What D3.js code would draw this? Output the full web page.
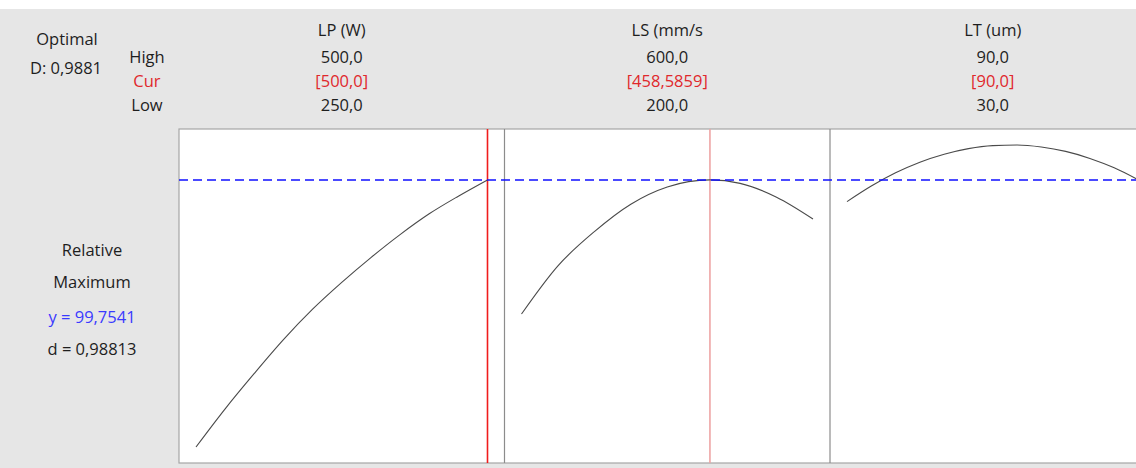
<!DOCTYPE html>
<html>
<head>
<meta charset="utf-8">
<script src="https://cdn.jsdelivr.net/npm/d3@7"></script>
<style>
  html, body { margin: 0; padding: 0; background: #ffffff; }
  svg { display: block; }
  text { font-family: "Open Sans", "Noto Sans", sans-serif; font-size: 16.5px; }
</style>
</head>
<body>
<svg id="chart" width="1136" height="468"></svg>
<script>
// Response optimizer: factor settings and composite desirability
const factorNames = ["LP (W)", "LS (mm/s", "LT (um)"];
const highLabels = ["500,0", "600,0", "90,0"];
const curLabels = ["[500,0]", "[458,5859]", "[90,0]"];
const lowLabels = ["250,0", "200,0", "30,0"];
const lowValues = [250, 200, 30];
const highValues = [500, 600, 90];
const curValues = [500, 458.5859, 90];

const optimalD = "0,9881";
const responseY = 99.7541;
const responseYLabel = "y = 99,7541";
const responseDLabel = "d = 0,98813";

// Predicted response traces along each factor (others held at current setting)
const lpX = [250, 275, 300, 325, 350, 375, 400, 425, 450, 475, 500];
const lpY = [86.40, 88.31, 90.08, 91.77, 93.29, 94.63, 95.87, 97.02, 98.06, 98.94, 99.7541];

const lsX = [200, 250, 300, 350, 400, 458.5859, 500, 550, 600];
const lsY = [93.05, 95.46, 97.17, 98.54, 99.40, 99.7541, 99.58, 98.89, 97.80];

const ltX = [30, 35, 40, 45, 50, 55, 60, 65, 70, 75, 80, 85, 90];
const ltY = [98.67, 99.45, 100.11, 100.64, 101.04, 101.32, 101.47, 101.50, 101.40, 101.18, 100.83, 100.36, 99.7541];

const traces = [
  { x: lpX, y: lpY },
  { x: lsX, y: lsY },
  { x: ltX, y: ltY }
];

const W = 1136, H = 468;
const svg = d3.select("#chart");

const plotLeft = 179, plotTop = 129, plotBottom = 463;
const panelW = 325.5, pad = 17;

// Background
svg.append("rect").attr("x", 0).attr("y", 9).attr("width", W).attr("height", H - 9).attr("fill", "#e6e6e6");
svg.append("rect").attr("x", plotLeft).attr("y", plotTop)
  .attr("width", W - plotLeft + 5).attr("height", plotBottom - plotTop)
  .attr("fill", "#ffffff").attr("stroke", "#a6a6a6").attr("stroke-width", 1.2);

const y = d3.scaleLinear().domain([85.6, 102.3]).range([plotBottom, plotTop]);

const black = "#1e1e1e", red = "#e0282c", blue = "#3a3aff";

// Left header block
svg.append("text").attr("x", 67).attr("y", 41).attr("text-anchor", "middle")
  .attr("dominant-baseline", "middle").attr("fill", black).text("Optimal");
svg.append("text").attr("x", 66).attr("y", 70).attr("text-anchor", "middle")
  .attr("dominant-baseline", "middle").attr("fill", black).text("D: " + optimalD);

const rowY = [59, 83, 107];
[["High", black], ["Cur", red], ["Low", black]].forEach(([t, c], i) => {
  svg.append("text").attr("x", 147).attr("y", rowY[i]).attr("text-anchor", "middle")
    .attr("dominant-baseline", "middle").attr("fill", c).text(t);
});

// Response block on the left
[["Relative", black, 252], ["Maximum", black, 284], [responseYLabel, blue, 319], [responseDLabel, black, 351]]
  .forEach(([t, c, yy]) => {
    svg.append("text").attr("x", 92).attr("y", yy).attr("text-anchor", "middle")
      .attr("dominant-baseline", "middle").attr("fill", c).text(t);
  });

const line = d3.line().curve(d3.curveMonotoneX);

factorNames.forEach((name, i) => {
  const x0 = plotLeft + i * panelW;
  const cx = x0 + panelW / 2;
  const x = d3.scaleLinear().domain([lowValues[i], highValues[i]]).range([x0 + pad, x0 + panelW - pad]);

  svg.append("text").attr("x", cx).attr("y", 32).attr("text-anchor", "middle")
    .attr("dominant-baseline", "middle").attr("fill", black).text(name);
  svg.append("text").attr("x", cx).attr("y", rowY[0]).attr("text-anchor", "middle")
    .attr("dominant-baseline", "middle").attr("fill", black).text(highLabels[i]);
  svg.append("text").attr("x", cx).attr("y", rowY[1]).attr("text-anchor", "middle")
    .attr("dominant-baseline", "middle").attr("fill", red).text(curLabels[i]);
  svg.append("text").attr("x", cx).attr("y", rowY[2]).attr("text-anchor", "middle")
    .attr("dominant-baseline", "middle").attr("fill", black).text(lowLabels[i]);

  // Panel divider
  if (i > 0) {
    svg.append("line").attr("x1", x0).attr("x2", x0).attr("y1", plotTop).attr("y2", plotBottom)
      .attr("stroke", "#8c8c8c").attr("stroke-width", 1.2);
  }

  // Current setting
  svg.append("line").attr("x1", x(curValues[i])).attr("x2", x(curValues[i]))
    .attr("y1", plotTop).attr("y2", plotBottom)
    .attr("stroke", i === 1 ? "#eea5a5" : "#f01c1c").attr("stroke-width", 1.6);

  // Response trace
  const tr = traces[i];
  svg.append("path")
    .attr("d", line(tr.x.map((v, k) => [x(v), y(tr.y[k])])))
    .attr("fill", "none").attr("stroke", "#4a4a4a").attr("stroke-width", 1.1);
});

// Optimal response reference
svg.append("line").attr("x1", plotLeft).attr("x2", W).attr("y1", y(responseY)).attr("y2", y(responseY))
  .attr("stroke", "#0f0fff").attr("stroke-width", 1.5).attr("stroke-dasharray", "9,5");
</script>
</body>
</html>
